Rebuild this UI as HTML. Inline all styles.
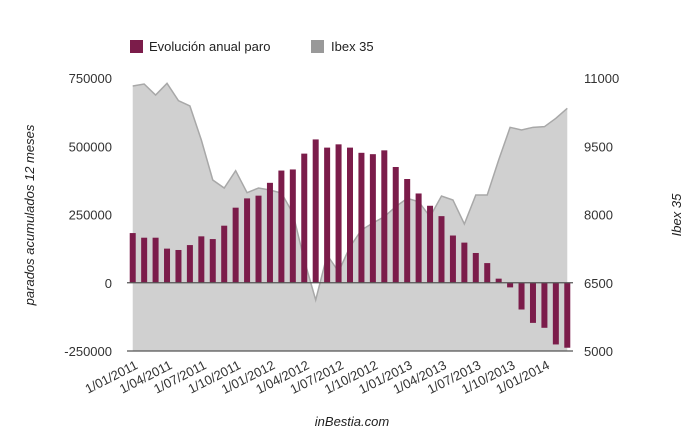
<!DOCTYPE html>
<html><head><meta charset="utf-8">
<style>
body{margin:0;background:#fff;width:697px;height:431px;overflow:hidden;font-family:"Liberation Sans",Arial,sans-serif;}
svg text{font-family:"Liberation Sans",Arial,sans-serif;}
</style></head>
<body>
<svg id="chart" width="697" height="431" xmlns="http://www.w3.org/2000/svg">
<g>
<rect x="130" y="40" width="13" height="13" fill="#7b1c4a"/>
<text x="149" y="51" font-size="13" fill="#222">Evolución anual paro</text>
<rect x="311" y="40" width="13" height="13" fill="#999"/>
<text x="331" y="51" font-size="13" fill="#222">Ibex 35</text>
</g>
<g id="area"></g>
<g id="bars"></g>
<g id="axes"></g>
<text transform="translate(34,215) rotate(-90)" text-anchor="middle" font-size="13" font-style="italic" fill="#222">parados acumulados 12 meses</text>
<text transform="translate(681,215) rotate(-90)" text-anchor="middle" font-size="13" font-style="italic" fill="#222">Ibex 35</text>
<text x="352" y="426" text-anchor="middle" font-size="13" font-style="italic" fill="#222">inBestia.com</text>
</svg>
<script>
const paro = [182000,165000,165000,125000,120000,138000,170000,160000,209000,275000,309000,319000,366000,411000,415000,473000,525000,495000,507000,495000,476000,471000,485000,424000,380000,327000,282000,244000,173000,147000,109000,72000,15000,-17000,-98000,-147000,-165000,-226000,-238000];
const ibex = [10824,10868,10626,10883,10501,10385,9637,8758,8582,8963,8479,8582,8538,8472,8033,7000,6121,7110,6743,7292,7659,7813,7952,8172,8355,8282,7952,8407,8319,7791,8429,8429,9198,9916,9857,9916,9930,10114,10334];
const leftTicks = [750000,500000,250000,0,-250000];
const rightTicks = [11000,9500,8000,6500,5000];
const xLabels = ["1/01/2011","1/04/2011","1/07/2011","1/10/2011","1/01/2012","1/04/2012","1/07/2012","1/10/2012","1/01/2013","1/04/2013","1/07/2013","1/10/2013","1/01/2014"];

const NS="http://www.w3.org/2000/svg";
const L=127,R=573,T=78,B=351;
const band=(R-L)/paro.length;
const xc=i=>L+band*(i+0.5);
const yL=v=>T+(750000-v)/1000000*(B-T);
const yR=v=>T+(11000-v)/6000*(B-T);
function mk(tag,attrs,parent){const e=document.createElementNS(NS,tag);for(const k in attrs)e.setAttribute(k,attrs[k]);parent.appendChild(e);return e;}

const area=document.getElementById('area');
let d=`M${xc(0)},${B}`;
ibex.forEach((v,i)=>{d+=` L${xc(i)},${yR(v)}`;});
d+=` L${xc(ibex.length-1)},${B} Z`;
const ap=mk('path',{d:d,fill:'#d0d0d0'},area);


let ld='';
ibex.forEach((v,i)=>{ld+=(i?' L':'M')+xc(i)+','+yR(v);});
const lp=mk('path',{d:ld,fill:'none',stroke:'#a8a8a8','stroke-width':1.5},area);



const bars=document.getElementById('bars');
const bw=6;
paro.forEach((v,i)=>{
  const y0=yL(0),y1=yL(v);
  const r=mk('rect',{x:xc(i)-bw/2,y:Math.min(y0,y1),width:bw,height:Math.abs(y1-y0),fill:'#7b1c4a'},bars);
  
  
});

const axes=document.getElementById('axes');
const z=mk('line',{x1:L,x2:R,y1:yL(0),y2:yL(0),stroke:'#555','stroke-width':1.2},axes);


const bl=mk('line',{x1:L,x2:R,y1:B,y2:B,stroke:'#555','stroke-width':1.2},axes);


leftTicks.forEach(v=>{
  const t=mk('text',{x:112,y:yL(v)+5,'text-anchor':'end','font-size':13,fill:'#333'},axes);
  t.textContent=v;
  
  
});
rightTicks.forEach(v=>{
  const t=mk('text',{x:584,y:yR(v)+5,'font-size':13,fill:'#333'},axes);
  t.textContent=v;
  
  
});
xLabels.forEach((s,k)=>{
  const x=xc(k*3)+6,y=368;
  const t=mk('text',{x:x,y:y,'text-anchor':'end','font-size':13,fill:'#333',transform:`rotate(-27 ${x} ${y})`},axes);
  t.textContent=s;
  
  
});
</script>
</body></html>
